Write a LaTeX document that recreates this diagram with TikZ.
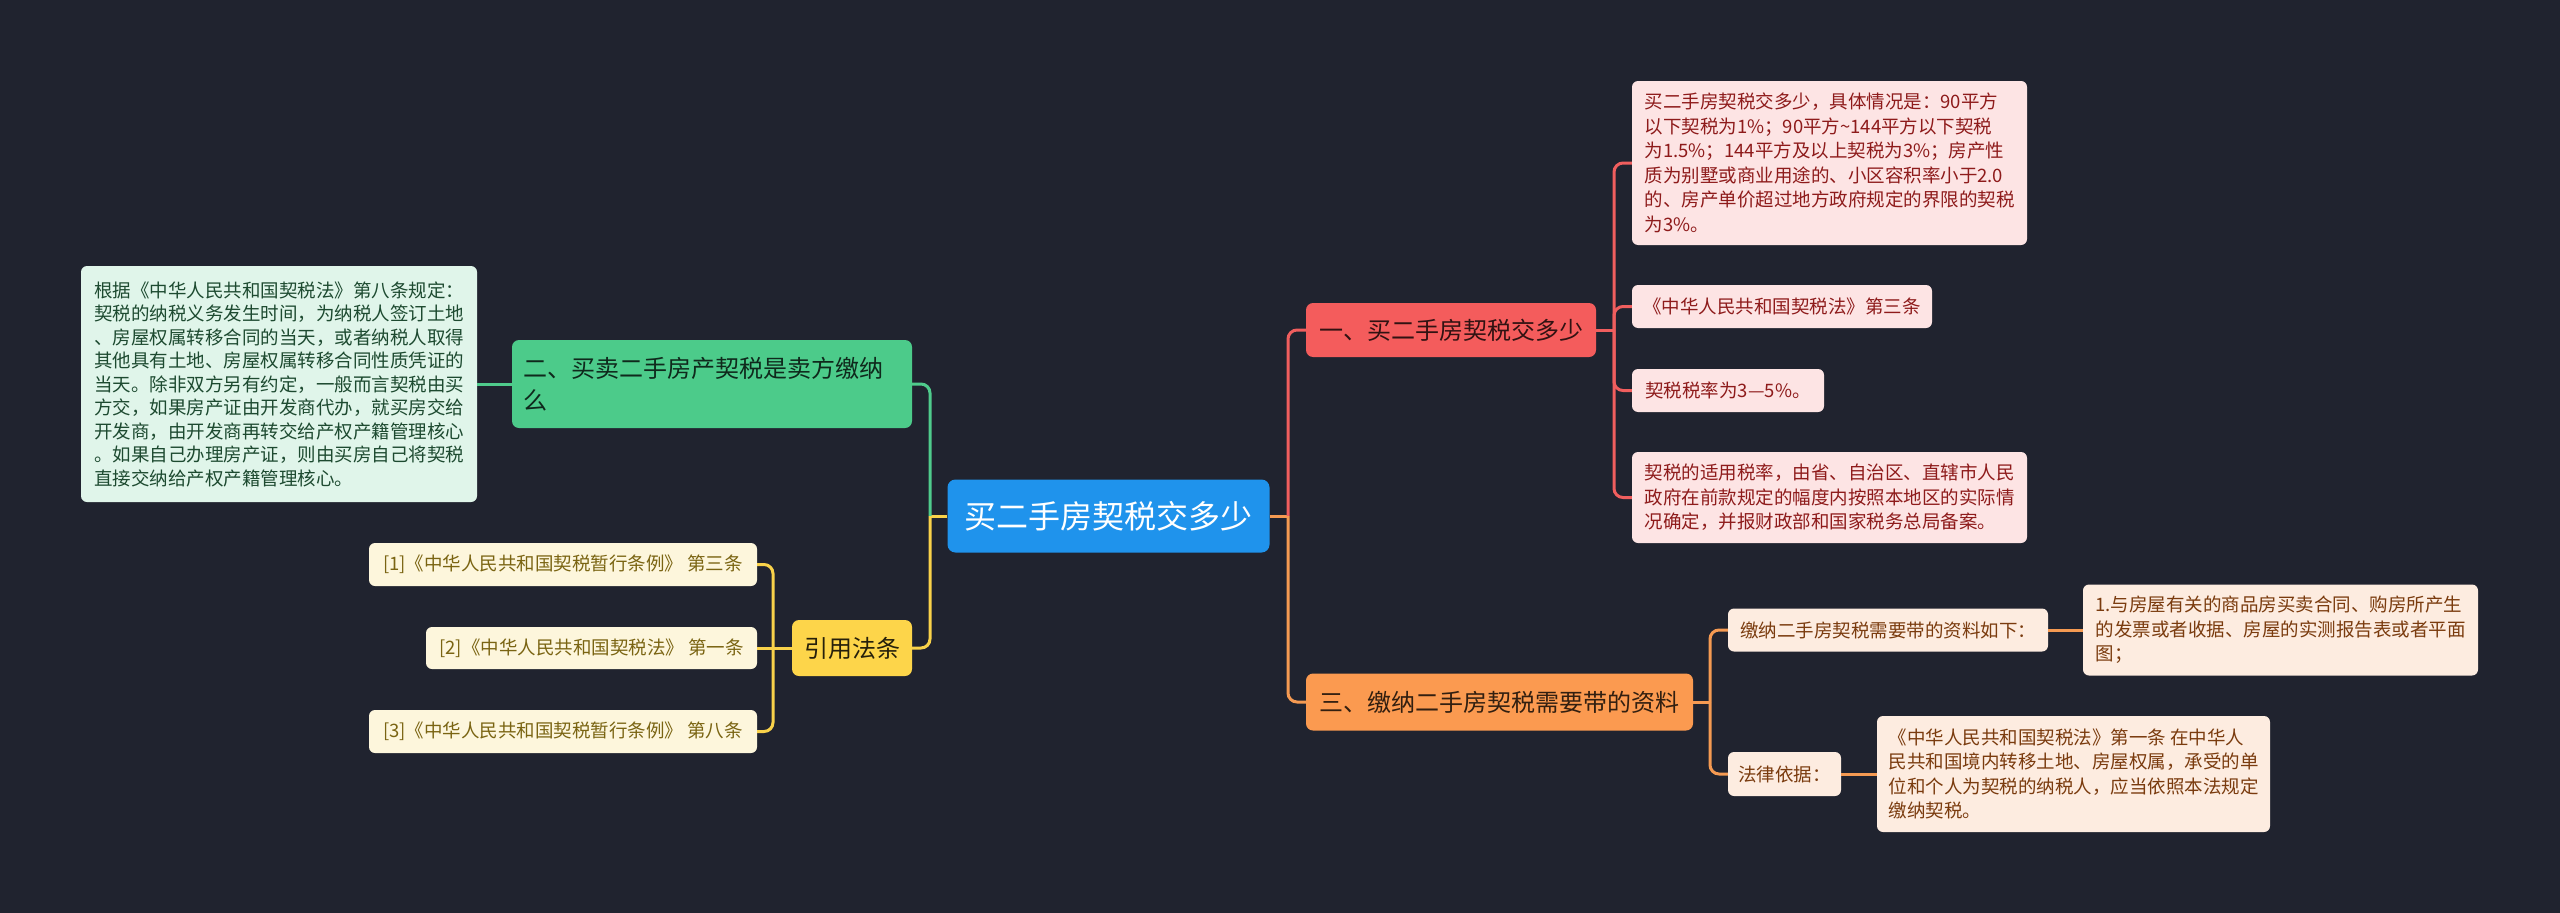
\documentclass[tikz,border=0pt]{standalone}
\usepackage{fontspec}
\setmainfont{Noto Sans CJK SC}
\definecolor{bgc}{HTML}{20232F}
\definecolor{rootc}{HTML}{1F93EC}
\definecolor{rbr}{HTML}{F45C5C}
\definecolor{obr}{HTML}{FB9A50}
\definecolor{gbr}{HTML}{4CCB8A}
\definecolor{ybr}{HTML}{FDD54A}
\definecolor{rleaf}{HTML}{FDE4E4}
\definecolor{oleaf}{HTML}{FDECE0}
\definecolor{gleaf}{HTML}{E0F5EA}
\definecolor{yleaf}{HTML}{FDF6DC}
\definecolor{rtext}{HTML}{8E1B1B}
\definecolor{otext}{HTML}{7A3B0E}
\definecolor{gtext}{HTML}{1D4A30}
\definecolor{ytext}{HTML}{7A6412}
\definecolor{rcon}{HTML}{F05E5E}
\definecolor{ocon}{HTML}{F59A52}
\definecolor{gcon}{HTML}{4FCB8C}
\definecolor{ycon}{HTML}{F9D24A}
\tikzset{
  box/.style={rounded corners=6pt, inner xsep=9pt, inner ysep=3pt, anchor=center, align=left,
    font=\fontsize{18.5}{24.5}\selectfont},
  brbox/.style={rounded corners=7pt, inner xsep=11pt, inner ysep=3pt, anchor=center, align=left,
    font=\fontsize{24}{32}\selectfont},
  redleaf/.style={box, fill=rleaf, text=rtext},
  orleaf/.style={box, fill=oleaf, text=otext},
  grleaf/.style={box, fill=gleaf, text=gtext, font=\fontsize{18.5}{23.5}\selectfont},
  yeleaf/.style={box, fill=yleaf, text=ytext},
  conn/.style={line width=3pt, rounded corners=9pt},
}
\begin{document}
\begin{tikzpicture}[x=1pt,y=-1pt]
\fill[bgc] (0,0) rectangle (2560,913);
\useasboundingbox (0,0) rectangle (2560,913);

% root
\node[rounded corners=8pt, fill=rootc, text=white, font=\fontsize{32}{38}\selectfont,
  minimum width=322pt, minimum height=73pt, anchor=center] (root) at (1108.5,516) {买二手房契税交多少};

% branches
\node[brbox, fill=rbr, text=black!80!rbr, minimum width=290pt, minimum height=54pt] (b1) at (1451,330) {一、买二手房契税交多少};
\node[brbox, fill=obr, text=black!80!obr, minimum width=387pt, minimum height=57pt] (b3) at (1499.5,702) {三、缴纳二手房契税需要带的资料};
\node[brbox, fill=gbr, text=black!80!gbr, text width=378pt, minimum height=88pt] (b2) at (712,384) {二、买卖二手房产契税是卖方缴纳\\么};
\node[brbox, fill=ybr, text=black!85!ybr, minimum width=120pt, minimum height=56pt] (yb) at (852,648) {引用法条};

% red leaves
\node[redleaf, minimum width=395pt, minimum height=164pt] (L1) at (1829.5,163) {买二手房契税交多少，具体情况是：90平方\\以下契税为1\%；90平方\textasciitilde144平方以下契税\\为1.5\%；144平方及以上契税为3\%；房产性\\质为别墅或商业用途的、小区容积率小于2.0\\的、房产单价超过地方政府规定的界限的契税\\为3\%。};
\node[redleaf, minimum width=300pt, minimum height=43pt] (L2) at (1782,306.5) {《中华人民共和国契税法》第三条};
\node[redleaf, minimum width=192pt, minimum height=43pt] (L3) at (1728,390.5) {契税税率为3—5\%。};
\node[redleaf, minimum width=395pt, minimum height=91pt] (L4) at (1829.5,497.5) {契税的适用税率，由省、自治区、直辖市人民\\政府在前款规定的幅度内按照本地区的实际情\\况确定，并报财政部和国家税务总局备案。};

% orange leaves
\node[orleaf, minimum width=320pt, minimum height=43pt] (s1) at (1888,630) {缴纳二手房契税需要带的资料如下：};
\node[orleaf, minimum width=113pt, minimum height=44pt] (s2) at (1784.5,774) {法律依据：};
\node[orleaf, minimum width=395pt, minimum height=91pt] (c1) at (2280.5,630) {1.与房屋有关的商品房买卖合同、购房所产生\\的发票或者收据、房屋的实测报告表或者平面\\图；};
\node[orleaf, minimum width=393pt, minimum height=116pt] (c2) at (2073.5,774) {《中华人民共和国契税法》第一条 在中华人\\民共和国境内转移土地、房屋权属，承受的单\\位和个人为契税的纳税人，应当依照本法规定\\缴纳契税。};

% green leaf
\node[grleaf, minimum width=396pt, minimum height=236pt] (gl) at (279,384) {根据《中华人民共和国契税法》第八条规定：\\契税的纳税义务发生时间，为纳税人签订土地\\、房屋权属转移合同的当天，或者纳税人取得\\其他具有土地、房屋权属转移合同性质凭证的\\当天。除非双方另有约定，一般而言契税由买\\方交，如果房产证由开发商代办，就买房交给\\开发商，由开发商再转交给产权产籍管理核心\\。如果自己办理房产证，则由买房自己将契税\\直接交纳给产权产籍管理核心。};

% yellow leaves
\node[yeleaf, minimum width=388pt, minimum height=43pt] (Y1) at (563,564.5) {[1]《中华人民共和国契税暂行条例》 第三条};
\node[yeleaf, minimum width=331pt, minimum height=42pt] (Y2) at (591.5,648) {[2]《中华人民共和国契税法》 第一条};
\node[yeleaf, minimum width=388pt, minimum height=43pt] (Y3) at (563,731.5) {[3]《中华人民共和国契税暂行条例》 第八条};

% connectors right side
\coordinate (rj) at (1288,516);
\draw[conn, ocon] (root.east) -- (rj);
\draw[conn, rcon] (rj) |- (b1.west);
\draw[conn, ocon] (rj) |- (b3.west);

\coordinate (r1) at (1614,330);
\draw[conn, rcon] (b1.east) -- (r1);
\draw[conn, rcon] (r1) |- (L1.west);
\draw[conn, rcon] (r1) |- (L2.west);
\draw[conn, rcon] (r1) |- (L3.west);
\draw[conn, rcon] (r1) |- (L4.west);

\coordinate (o1) at (1710,702);
\draw[conn, ocon] (b3.east) -- (o1);
\draw[conn, ocon] (o1) |- (s1.west);
\draw[conn, ocon] (o1) |- (s2.west);
\draw[conn, ocon] (s1.east) -- (c1.west);
\draw[conn, ocon] (s2.east) -- (c2.west);

% connectors left side
\coordinate (lj) at (930,516);
\draw[conn, ycon] (root.west) -- (lj);
\draw[conn, gcon] (lj) |- (b2.east);
\draw[conn, ycon] (lj) |- (yb.east);
\draw[conn, gcon] (b2.west) -- (gl.east);

\coordinate (yj) at (773,648);
\draw[conn, ycon] (yb.west) -- (yj);
\draw[conn, ycon] (yj) |- (Y1.east);
\draw[conn, ycon] (yj) -- (Y2.east);
\draw[conn, ycon] (yj) |- (Y3.east);
\end{tikzpicture}
\end{document}
